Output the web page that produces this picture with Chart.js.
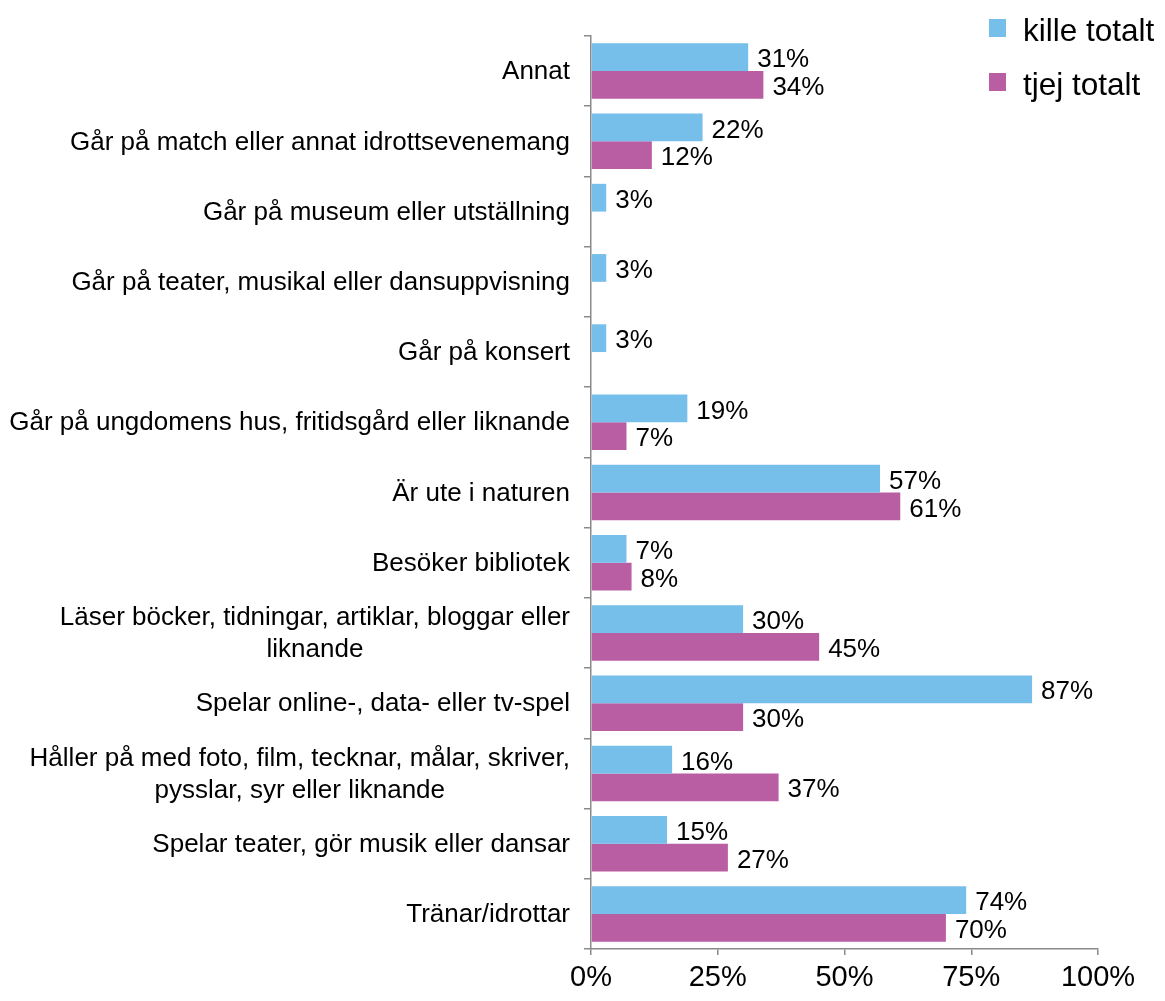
<!DOCTYPE html>
<html>
<head>
<meta charset="utf-8">
<script src="https://cdn.jsdelivr.net/npm/chart.js@4.4.1/dist/chart.umd.min.js"></script>
<style>
  html, body { margin: 0; padding: 0; background: #ffffff; }
  #wrap { width: 1165px; height: 1001px; position: relative; }
</style>
</head>
<body>
<div id="wrap"><canvas id="c" width="1165" height="1001"></canvas></div>
<script>
const categories = [
  ["Annat"],
  ["Går på match eller annat idrottsevenemang"],
  ["Går på museum eller utställning"],
  ["Går på teater, musikal eller dansuppvisning"],
  ["Går på konsert"],
  ["Går på ungdomens hus, fritidsgård eller liknande"],
  ["Är ute i naturen"],
  ["Besöker bibliotek"],
  ["Läser böcker, tidningar, artiklar, bloggar eller", "liknande"],
  ["Spelar online-, data- eller tv-spel"],
  ["Håller på med foto, film, tecknar, målar, skriver,", "pysslar, syr eller liknande"],
  ["Spelar teater, gör musik eller dansar"],
  ["Tränar/idrottar"]
];
const killeTotalt = [31, 22, 3, 3, 3, 19, 57, 7, 30, 87, 16, 15, 74];
const tjejTotalt  = [34, 12, null, null, null, 7, 61, 8, 45, 30, 37, 27, 70];
const seriesNames = ["kille totalt", "tjej totalt"];
const xTicks = [0, 25, 50, 75, 100];

const FONT = "'Liberation Sans', Arial, sans-serif";
const BLUE = "#75bfea";
const PINK = "#b95ea3";
const AXIS = "#8a8a8a";

const labelPlugin = {
  id: 'customLabels',
  afterDatasetsDraw(chart) {
    const ctx = chart.ctx;
    ctx.save();
    ctx.font = "26px " + FONT;
    ctx.fillStyle = "#000";
    ctx.textAlign = "left";
    ctx.textBaseline = "middle";
    chart.data.datasets.forEach((ds, di) => {
      const meta = chart.getDatasetMeta(di);
      meta.data.forEach((bar, i) => {
        const v = ds.data[i];
        if (v === null || v === undefined) return;
        ctx.fillText(v + "%", bar.x + 9, bar.y + 3);
      });
    });
    ctx.restore();
  },
  afterDraw(chart) {
    const ctx = chart.ctx;
    const yScale = chart.scales.y;
    ctx.save();
    // category labels
    ctx.font = "26px " + FONT;
    ctx.fillStyle = "#000";
    ctx.textBaseline = "middle";
    ctx.textAlign = "center";
    const right = 570, lh = 32;
    chart.data.labels.forEach((lines, i) => {
      const yc = yScale.getPixelForValue(i) + 1;
      const widths = lines.map(l => ctx.measureText(l).width);
      const maxW = Math.max(...widths);
      const cx = right - maxW / 2;
      const y0 = yc - (lines.length - 1) * lh / 2;
      lines.forEach((l, k) => ctx.fillText(l, cx, y0 + k * lh));
    });
    // legend
    ctx.font = "31.5px " + FONT;
    ctx.textAlign = "left";
    const items = [{c: BLUE, y: 28}, {c: PINK, y: 82}];
    chart.data.datasets.forEach((ds, di) => {
      const it = items[di];
      ctx.fillStyle = ds.backgroundColor;
      ctx.fillRect(989, it.y - 9, 17, 18);
      ctx.fillStyle = "#000";
      ctx.fillText(ds.label, 1023, it.y + 4);
    });
    ctx.restore();
  }
};

new Chart(document.getElementById('c'), {
  type: 'bar',
  data: {
    labels: categories,
    datasets: [
      { label: seriesNames[0], data: killeTotalt, backgroundColor: BLUE, borderWidth: 0 },
      { label: seriesNames[1], data: tjejTotalt, backgroundColor: PINK, borderWidth: 0 }
    ]
  },
  options: {
    indexAxis: 'y',
    responsive: false,
    animation: false,
    devicePixelRatio: 1,
    layout: { padding: { left: 0, right: 67, top: 36, bottom: 0 } },
    datasets: { bar: { categoryPercentage: 0.79, barPercentage: 1.0 } },
    plugins: {
      legend: { display: false },
      tooltip: { enabled: false }
    },
    scales: {
      x: {
        min: 0, max: 100,
        afterBuildTicks(scale) { scale.ticks = xTicks.map(v => ({ value: v })); },
        afterFit(scale) { scale.height = 52; },
        ticks: {
          callback: v => v + "%",
          color: "#000",
          font: { family: FONT, size: 29 },
          padding: 6,
          maxRotation: 0
        },
        grid: { display: true, drawOnChartArea: false, drawTicks: true, tickLength: 6, color: AXIS, lineWidth: 1.5 },
        border: { display: true, color: AXIS, width: 1.5 }
      },
      y: {
        afterFit(scale) { scale.width = 591; },
        ticks: { display: false },
        grid: { display: true, offset: true, drawOnChartArea: false, drawTicks: true, tickLength: 7, color: AXIS, lineWidth: 1.5 },
        border: { display: true, color: AXIS, width: 1.5 }
      }
    }
  },
  plugins: [labelPlugin]
});
</script>
</body>
</html>
